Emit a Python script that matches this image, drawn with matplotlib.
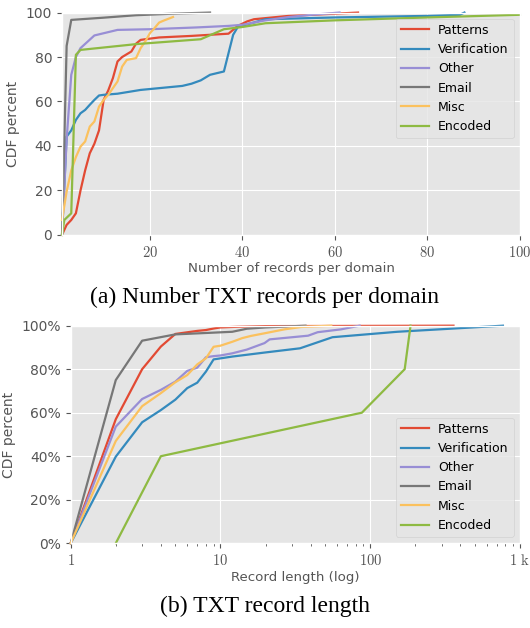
import matplotlib.pyplot as plt
from matplotlib.ticker import FixedLocator, LogLocator, NullFormatter

plt.style.use('ggplot')
plt.rcParams['mathtext.fontset'] = 'cm'
plt.rcParams['font.family'] = 'DejaVu Sans'

names = ['Patterns', 'Verification', 'Other', 'Email', 'Misc', 'Encoded']
colors = ['#E24A33', '#348ABD', '#988ED5', '#777777', '#FBC15E', '#8EBA42']

# (a) number of TXT records per domain
pat_x = [1, 2, 3, 4, 5, 6, 7, 8, 9, 10, 11, 12, 13, 14, 16, 17, 18, 19, 22, 29, 37, 39, 41, 42.5, 45, 50, 60, 65]
pat_y = [0, 4.5, 6.7, 9.7, 20, 29, 36.7, 41, 47, 60.7, 65, 70.5, 78, 80, 82.5, 86, 87.7, 88, 88.8, 89.5, 90.5, 94, 96, 97, 97.5, 98.5, 99.5, 100]
ver_x = [1, 2, 3, 4, 5, 6, 7, 8, 9, 10, 13, 18, 27, 29, 31, 33, 36, 38, 39, 45, 60, 80, 87, 88]
ver_y = [0, 44.2, 47, 51.7, 54.7, 56.2, 58.5, 60.7, 62.7, 63, 63.5, 65.2, 67, 68, 69.5, 72, 73.5, 90, 93.5, 97, 97.8, 98.5, 99, 100]
oth_x = [1, 2, 3, 4, 5, 8, 13, 20, 30, 37, 40, 45, 50, 55, 61]
oth_y = [0, 43, 72, 80, 84, 89.7, 92.2, 92.5, 93.3, 94, 94.5, 96.5, 98, 99, 100]
ema_x = [1, 2, 3, 10, 17, 25, 33]
ema_y = [0, 85, 96.7, 97.7, 98.8, 99.5, 100]
mis_x = [1, 2, 3, 4, 5, 6, 7, 8, 9, 10, 11, 12, 13, 14, 15, 17, 18, 19, 20, 21, 22, 23, 25]
mis_y = [6.7, 19.5, 29, 35, 39.7, 42, 48.7, 51, 57.7, 60.7, 63, 66, 69, 75.7, 78.7, 79.5, 84, 87, 90.7, 93, 95.5, 96.4, 98]
enc_x = [1, 1.5, 3, 4, 5, 17, 31, 36, 40, 45, 60, 80, 100]
enc_y = [0, 6.7, 9.7, 81, 83.2, 85.8, 88, 92.5, 93.5, 95.2, 96.5, 97.8, 99]

# (b) TXT record length
pat_lx = [1, 2, 3, 4, 5, 7, 8, 9, 10, 13, 20, 360]
pat_ly = [0, 57, 80, 90.4, 96.2, 97.6, 98, 98.7, 99.2, 99.5, 99.8, 100]
ver_lx = [1, 2, 3, 4, 5, 6, 7, 8, 9, 12, 20, 34, 56, 152, 770]
ver_ly = [0, 39.8, 55.6, 61.2, 66, 71.3, 73.8, 78.9, 84.5, 85.8, 87.7, 89.6, 94.7, 97.2, 100]
oth_lx = [1, 2, 3, 4, 5, 6, 7, 8, 9, 10, 12, 15, 19.7, 21.3, 38.5, 44.6, 63.7, 85]
oth_ly = [0, 53.6, 66.3, 70.5, 74.3, 79.2, 80.7, 85.5, 86, 86.3, 87.3, 89, 92, 93.7, 95.4, 97, 98.3, 100]
ema_lx = [1, 2, 3, 5, 12, 15, 20, 37]
ema_ly = [0, 75, 93.1, 96, 97.2, 98.6, 99.2, 100]
mis_lx = [1, 2, 3, 4, 5, 6, 7, 8, 9, 10, 12, 14, 16, 19.7, 26.7, 34.6, 55]
mis_ly = [0, 47, 63, 69, 74, 77.3, 82.2, 85, 90.3, 90.8, 92.6, 94.3, 95.3, 96.5, 98.3, 99.4, 100]
enc_lx = [2, 4, 88, 170, 186]
enc_ly = [0, 40, 60, 80, 100]

top = [(pat_x, pat_y), (ver_x, ver_y), (oth_x, oth_y), (ema_x, ema_y), (mis_x, mis_y), (enc_x, enc_y)]
bot = [(pat_lx, pat_ly), (ver_lx, ver_ly), (oth_lx, oth_ly), (ema_lx, ema_ly), (mis_lx, mis_ly), (enc_lx, enc_ly)]

fig = plt.figure(figsize=(5.3, 6.28), dpi=100)
fig.patch.set_facecolor('white')
ax1 = fig.add_axes([0.117, 0.626, 0.864, 0.354])
ax2 = fig.add_axes([0.1334, 0.135, 0.8476, 0.3464])

leg_kw = dict(fontsize=9, handlelength=2.3, labelspacing=0.5, borderaxespad=0.5,
              handletextpad=0.7)

for (x, y), n, c in zip(top, names, colors):
    ax1.plot(x, y, color=c, lw=1.6, label=n, clip_on=False)
ax1.set_xlim(1, 100)
ax1.set_ylim(0, 100)
ax1.set_xticks([20, 40, 60, 80, 100])
ax1.set_xticklabels(['$%d$' % v for v in [20, 40, 60, 80, 100]], fontsize=10.5)
ax1.set_yticks([0, 20, 40, 60, 80, 100])
ax1.tick_params(axis='y', labelsize=10, colors='#555555')
ax1.tick_params(axis='x', colors='#555555')
ax1.set_xlabel('Number of records per domain', fontsize=9.6, color='#555555', labelpad=2)
ax1.set_ylabel('CDF percent', fontsize=10, color='#555555')
ax1.legend(loc='upper right', **leg_kw)

for (x, y), n, c in zip(bot, names, colors):
    ax2.plot(x, y, color=c, lw=1.6, label=n, clip_on=False)
ax2.set_xscale('log')
ax2.set_xlim(1, 1000)
ax2.set_ylim(0, 100)
ax2.xaxis.set_major_locator(FixedLocator([1, 10, 100, 1000]))
ax2.set_xticklabels(['$1$', '$10$', '$100$', r'$1\ \mathrm{k}$'], fontsize=10.5)
ax2.xaxis.set_minor_locator(LogLocator(base=10, subs=range(2, 10)))
ax2.xaxis.set_minor_formatter(NullFormatter())
ax2.set_yticks([0, 20, 40, 60, 80, 100])
ax2.set_yticklabels(['%d%%' % v for v in [0, 20, 40, 60, 80, 100]])
ax2.tick_params(axis='y', labelsize=10, colors='#555555')
ax2.tick_params(axis='x', which='both', colors='#555555')
ax2.set_xlabel('Record length (log)', fontsize=9.6, color='#555555', labelpad=2)
ax2.set_ylabel('CDF percent', fontsize=10, color='#555555')
ax2.legend(loc='lower right', **leg_kw)

fig.text(0.5, 1 - 297 / 628, '(a) Number TXT records per domain', ha='center', va='center',
         fontsize=17, family='Liberation Serif')
fig.text(0.5, 1 - 606 / 628, '(b) TXT record length', ha='center', va='center',
         fontsize=17, family='Liberation Serif')

fig.savefig('out.png', dpi=100, facecolor='white')
